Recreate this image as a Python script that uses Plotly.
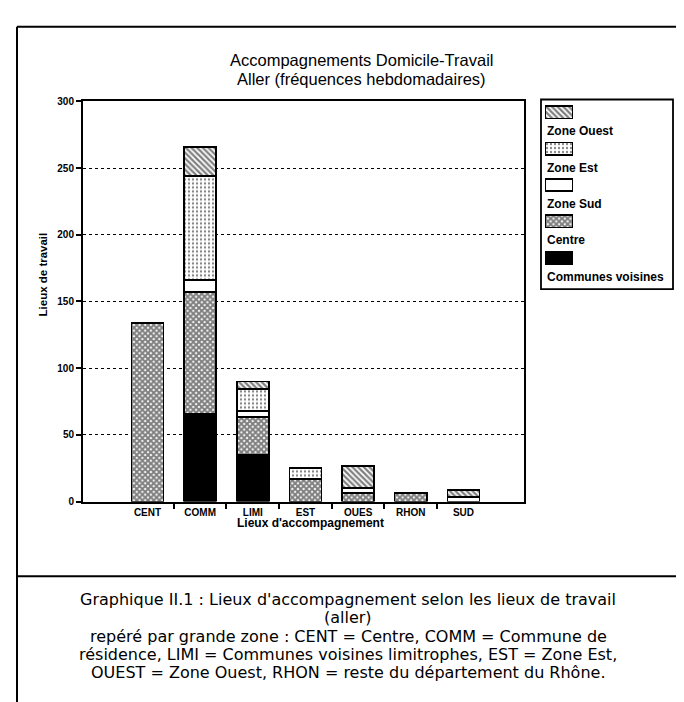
import plotly.graph_objects as go

# ---------------- data ----------------
categories = ["CENT", "COMM", "LIMI", "EST", "OUES", "RHON", "SUD"]
communes_voisines = [0, 66, 35, 0, 0, 0, 0]
centre = [134, 91, 28.5, 17, 6.5, 6.5, 0]
zone_sud = [0, 9, 4.5, 0, 3.5, 0, 3.5]
zone_est = [0, 78, 16.5, 8, 0, 0, 0]
zone_ouest = [0, 22, 5.5, 0, 16.5, 0, 5]

series_names = ["Communes voisines", "Centre", "Zone Sud", "Zone Est", "Zone Ouest"]
series_values = [communes_voisines, centre, zone_sud, zone_est, zone_ouest]
y_ticks = [0, 50, 100, 150, 200, 250, 300]

title_lines = ["Accompagnements Domicile-Travail", "Aller (fréquences hebdomadaires)"]
y_title = "Lieux de travail"
x_title = "Lieux d'accompagnement"
caption_lines = [
    "Graphique II.1 : Lieux d'accompagnement selon les lieux de travail",
    "(aller)",
    "repéré par grande zone : CENT = Centre, COMM = Commune de",
    "résidence, LIMI = Communes voisines limitrophes, EST = Zone Est,",
    "OUEST = Zone Ouest, RHON = reste du département du Rhône.",
]

# ---------------- styles ----------------
W, H = 684, 702
def px(x):
    return x / W
def py(y):
    return 1 - y / H

NARROW = "Liberation Sans Narrow, Arial Narrow, Liberation Sans, Arial"
SANS = "Liberation Sans, Arial, Helvetica"
CAPTION_FONT = "DejaVu Sans, Liberation Sans, Arial"

styles = {
    "Communes voisines": dict(color="black"),
    "Centre": dict(color="white", pattern=dict(shape="x", size=4, solidity=0.75,
                                               fgcolor="black", bgcolor="white")),
    "Zone Sud": dict(color="white"),
    "Zone Est": dict(color="white", pattern=dict(shape=".", size=4, solidity=0.25,
                                                 fgcolor="black", bgcolor="white")),
    "Zone Ouest": dict(color="white", pattern=dict(shape="\\", size=4, solidity=0.55,
                                                   fgcolor="black", bgcolor="white")),
}

fig = go.Figure()

for name, vals in zip(series_names, series_values):
    fig.add_trace(go.Bar(
        x=categories, y=vals, name=name,
        marker=dict(**styles[name], line=dict(color="black", width=1.5)),
        width=0.61, showlegend=False, hoverinfo="skip",
    ))

# tick marks between categories (overlay axis)
fig.add_trace(go.Scatter(x=[], y=[], xaxis="x2", yaxis="y", showlegend=False))

# legend swatches (manual legend: label under swatch)
legend_order = ["Zone Ouest", "Zone Est", "Zone Sud", "Centre", "Communes voisines"]
for name in legend_order:
    fig.add_trace(go.Bar(
        x=[1], y=[name], orientation="h", xaxis="x3", yaxis="y3",
        marker=dict(**styles[name], line=dict(color="black", width=1.6)),
        width=0.34, showlegend=False, hoverinfo="skip",
    ))

xr = [-1.225, 7.15]
fig.update_layout(
    width=W, height=H,
    margin=dict(l=0, r=0, t=0, b=0),
    paper_bgcolor="white", plot_bgcolor="white",
    barmode="stack",
    showlegend=False,
    xaxis=dict(
        domain=[px(75), px(516)], range=xr, type="category",
        categoryorder="array", categoryarray=categories,
        showline=True, mirror=True, linecolor="black", linewidth=2,
        ticks="", showgrid=False, zeroline=False,
        tickfont=dict(family=NARROW, size=10, color="black", weight="bold"),
    ),
    xaxis2=dict(
        overlaying="x", anchor="y", side="bottom", range=xr, type="linear",
        tickvals=[0.5, 1.5, 2.5, 3.5, 4.5, 5.5], ticks="outside", ticklen=6,
        tickwidth=2, tickcolor="black", showticklabels=False,
        showgrid=False, showline=False, zeroline=False,
    ),
    yaxis=dict(
        domain=[py(496), py(89)], range=[0, 300],
        tickvals=y_ticks, ticks="outside", ticklen=5, tickwidth=1.5, tickcolor="black",
        showline=True, mirror=True, linecolor="black", linewidth=2,
        showgrid=True, gridcolor="black", gridwidth=1, griddash="dot",
        zeroline=False,
        tickfont=dict(family=NARROW, size=10, color="black", weight="bold"),
    ),
    xaxis3=dict(domain=[px(537), px(565)], range=[0, 1], anchor="y3",
                visible=False, fixedrange=True),
    yaxis3=dict(domain=[py(266.5), py(81.5)], anchor="x3", type="category",
                categoryorder="array", categoryarray=legend_order,
                range=[4.5, -0.5], visible=False, fixedrange=True),
)

ann = []
# title
for t, yy in zip(title_lines, [47, 66]):
    ann.append(dict(text=t, x=px(353), y=py(yy), xref="paper", yref="paper",
                    showarrow=False, xanchor="center", yanchor="middle",
                    font=dict(family=SANS, size=16.5, color="black")))
# axis titles
ann.append(dict(text=y_title, x=px(35), y=py(265), xref="paper", yref="paper",
                showarrow=False, textangle=-90, xanchor="center", yanchor="middle",
                font=dict(family=NARROW, size=11.5, color="black", weight="bold")))
ann.append(dict(text=x_title, x=px(302), y=py(518), xref="paper", yref="paper",
                showarrow=False, xanchor="center", yanchor="middle",
                font=dict(family=NARROW, size=12, color="black", weight="bold")))
# legend labels
for name in legend_order:
    ann.append(dict(text=name, x=0, y=name, xref="x3", yref="y3", yshift=-19,
                    showarrow=False, xanchor="left", yanchor="middle",
                    font=dict(family=NARROW, size=12, color="black", weight="bold")))
# caption
cap_y = [596, 614.5, 633, 651.5, 670]
for t, yy in zip(caption_lines, cap_y):
    ann.append(dict(text=t, x=px(340), y=py(yy), xref="paper", yref="paper",
                    showarrow=False, xanchor="center", yanchor="middle",
                    font=dict(family=CAPTION_FONT, size=16, color="black")))
fig.update_layout(annotations=ann)

shapes = [
    # outer frame: left and top borders
    dict(type="line", xref="paper", yref="paper", x0=px(9), x1=px(9), y0=py(13), y1=py(702),
         line=dict(color="black", width=2)),
    dict(type="line", xref="paper", yref="paper", x0=px(9), x1=1, y0=py(13), y1=py(13),
         line=dict(color="black", width=2)),
    # separator above caption
    dict(type="line", xref="paper", yref="paper", x0=px(9), x1=1, y0=py(572), y1=py(572),
         line=dict(color="black", width=2)),
    # legend box
    dict(type="rect", xref="paper", yref="paper", x0=px(533), x1=px(665), y0=py(280), y1=py(87),
         line=dict(color="black", width=1.8)),
]
fig.update_layout(shapes=shapes)

fig.write_html("out.html")
